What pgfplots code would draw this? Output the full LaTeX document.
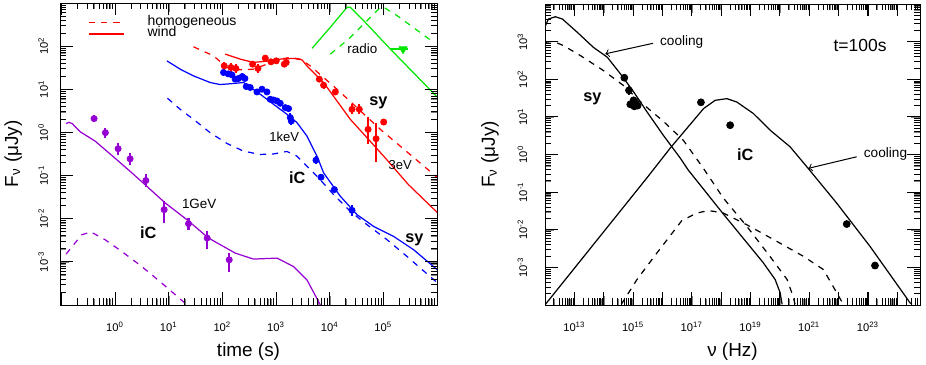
\documentclass[border=0pt]{standalone}
\usepackage{fontspec}
\setmainfont{Liberation Sans}
\usepackage{pgfplots}
\usepackage{pgfplotstable}
\pgfplotsset{compat=1.18}

\definecolor{vio}{RGB}{150,0,210}
\definecolor{grn}{RGB}{0,230,0}
\definecolor{rd}{RGB}{255,0,0}
\definecolor{bl}{RGB}{0,0,255}
\newcommand\fs[1]{\fontsize{#1}{#1}\selectfont}

% all values are log10 of the plotted quantity
% ---- left panel: light curves (log t [s], log F [muJy])
\pgfplotstableread{
x y
-0.914 0.202
-0.858 0.233
-0.797 0.202
-0.653 0.016
-0.373 -0.202
-0.032 -0.565
0.312 -0.937
0.591 -1.249
0.933 -1.635
1.338 -2.023
1.741 -2.449
2.239 -2.798
2.580 -2.937
3.017 -2.914
3.326 -3.109
3.576 -3.419
3.825 -4.0
}\vsolid
\pgfplotstableread{
x y
-0.914 -2.821
-0.621 -2.372
-0.448 -2.309
-0.187 -2.488
0.125 -2.760
0.498 -3.109
0.871 -3.495
1.343 -4.0
}\vdash
\pgfplotstableread{
x y ep em
-0.392 0.319 0.08 0.08
-0.181 -0.007 0.12 0.12
0.056 -0.379 0.14 0.14
0.280 -0.612 0.14 0.14
0.573 -1.116 0.16 0.16
0.914 -1.791 0.19 0.30
1.368 -2.116 0.14 0.14
1.716 -2.449 0.16 0.26
2.127 -2.953 0.16 0.28
}\vpts
\pgfplotstableread{
x y
0.965 1.658
1.213 1.465
1.461 1.309
1.772 1.156
1.959 1.109
2.207 1.133
2.394 1.156
2.487 1.077
2.705 0.884
2.953 0.651
3.203 0.419
3.390 0.226
3.576 -0.086
3.763 -0.551
3.886 -0.937
4.198 -1.481
4.509 -1.907
4.819 -2.179
5.192 -2.412
5.565 -2.721
6.007 -3.186
}\bsolid
\pgfplotstableread{
x y
0.976 0.791
1.213 0.535
1.461 0.302
1.772 -0.007
2.084 -0.256
2.394 -0.435
2.705 -0.512
2.953 -0.500
3.203 -0.442
3.390 -0.551
3.576 -0.784
3.763 -1.016
4.073 -1.442
4.384 -1.830
4.696 -2.140
5.069 -2.488
5.442 -2.877
6.007 -3.488
}\bdash
\pgfplotstableread{
x y ep em
2.021 1.388 0.03 0.03
2.108 1.356 0.03 0.03
2.177 1.333 0.03 0.03
2.239 1.233 0.03 0.03
2.300 1.249 0.03 0.03
2.369 1.295 0.03 0.03
2.420 1.249 0.03 0.03
2.444 1.063 0.03 0.03
2.519 1.040 0.03 0.03
2.644 0.937 0.03 0.03
2.737 1.000 0.03 0.03
2.830 0.937 0.03 0.03
2.892 0.767 0.03 0.03
2.953 0.751 0.03 0.03
3.017 0.728 0.03 0.03
3.078 0.674 0.03 0.03
3.172 0.574 0.03 0.03
3.233 0.551 0.03 0.03
3.265 0.342 0.10 0.10
3.284 0.263 0.10 0.10
3.744 -0.644 0.10 0.10
3.838 -1.040 0.06 0.06
4.086 -1.326 0.06 0.06
4.416 -1.807 0.12 0.12
}\bpts
\pgfplotstableread{
x y
2.052 1.814
2.332 1.698
2.580 1.621
2.830 1.651
3.078 1.698
3.326 1.714
3.483 1.681
3.576 1.542
3.886 1.156
4.384 0.302
5.006 -0.551
5.466 -1.209
6.007 -1.860
}\rsolid
\pgfplotstableread{
x y
1.461 1.984
1.834 1.774
2.084 1.505
2.332 1.449
2.580 1.465
2.830 1.581
3.078 1.698
3.265 1.737
3.451 1.698
3.638 1.542
4.136 1.000
4.944 0.070
6.007 -1.047
}\rdash
\pgfplotstableread{
x y ep em
2.034 1.542 0.10 0.10
2.159 1.505 0.10 0.10
2.252 1.481 0.10 0.10
2.562 1.581 0.05 0.05
2.662 1.481 0.10 0.10
2.799 1.721 0.03 0.03
2.905 1.635 0.03 0.03
3.004 1.658 0.03 0.03
3.153 1.581 0.05 0.05
3.190 1.621 0.03 0.03
3.806 1.233 0.05 0.05
3.886 1.093 0.08 0.08
4.104 0.937 0.06 0.06
4.416 0.535 0.12 0.12
4.552 0.535 0.12 0.12
4.715 0.070 0.28 0.35
4.864 -0.147 0.37 0.53
5.006 0.240 0.06 0.06
}\rpts
\pgfplotstableread{
x y
3.670 1.947
4.011 2.435
4.323 2.900
4.384 2.900
4.603 2.628
5.131 1.930
6.007 0.814
}\gsolid
\pgfplotstableread{
x y
4.011 1.814
4.353 2.163
4.696 2.588
4.944 2.900
5.006 2.900
5.256 2.705
5.938 2.086
}\gdash
\pgfplotstableread{
x y
5.131 1.930
5.466 1.930
}\glim
% ---- right panel: spectrum at t=100 s (log nu [Hz], log F [muJy])
\pgfplotstableread{
x y
12.014 3.423
12.116 3.601
12.354 3.661
12.592 3.601
13.102 3.246
13.646 2.849
14.122 2.585
14.565 2.146
15.007 1.677
15.483 1.122
16.027 0.513
16.605 -0.095
16.878 -0.413
18.068 -1.577
19.429 -2.873
19.837 -3.323
20.007 -3.672
20.075 -3.984
}\sysolid
\pgfplotstableread{
x y
12.014 2.981
12.286 3.008
12.626 2.894
13.204 2.630
13.986 2.233
14.667 1.836
15.347 1.333
16.027 0.884
16.707 0.381
17.388 -0.360
18.068 -1.153
18.884 -1.921
19.667 -2.714
20.245 -3.323
20.449 -3.773
20.517 -3.984
}\sydash
\pgfplotstableread{
x y
12.014 -3.984
15.473 -0.620
16.265 0.170
16.946 0.800
17.400 1.220
17.796 1.440
18.194 1.484
18.534 1.394
19.099 1.087
19.667 0.646
20.347 0.204
20.915 -0.325
21.935 -1.294
23.068 -2.442
24.429 -3.939
24.497 -3.984
}\icsolid
\pgfplotstableread{
x y
14.599 -3.984
15.133 -3.323
15.813 -2.616
16.663 -1.754
17.173 -1.558
17.568 -1.489
18.078 -1.558
18.874 -1.868
19.895 -2.310
20.799 -2.706
21.480 -3.058
21.935 -3.675
22.160 -3.984
}\icdash
\pgfplotstableread{
x y e
14.701 2.040 0.08
14.861 1.704 0.12
14.905 1.333 0.06
15.017 1.439 0.06
15.099 1.352 0.06
15.153 1.299 0.06
15.041 1.280 0.06
17.310 1.386 0.04
18.306 0.778 0.04
22.276 -1.849 0.08
23.238 -2.952 0.08
}\sedpts

% tick positions (drawn as inward strokes on all four sides)
\def\LXmaj{0.1,1,10,100,1000,1e4,1e5}
\def\LXmin{2e-1,3e-1,4e-1,5e-1,6e-1,7e-1,8e-1,9e-1,2,3,4,5,6,7,8,9,20,30,40,50,60,70,80,90,200,300,400,500,600,700,800,900,2e3,3e3,4e3,5e3,6e3,7e3,8e3,9e3,2e4,3e4,4e4,5e4,6e4,7e4,8e4,9e4,2e5,3e5,4e5,5e5,6e5,7e5,8e5,9e5}
\def\LYmaj{1e-3,1e-2,0.1,1,10,100}
\def\LYmin{2e-4,3e-4,4e-4,5e-4,6e-4,7e-4,8e-4,9e-4,2e-3,3e-3,4e-3,5e-3,6e-3,7e-3,8e-3,9e-3,2e-2,3e-2,4e-2,5e-2,6e-2,7e-2,8e-2,9e-2,2e-1,3e-1,4e-1,5e-1,6e-1,7e-1,8e-1,9e-1,2,3,4,5,6,7,8,9,20,30,40,50,60,70,80,90,200,300,400,500,600,700,800,900}
\def\RXmaj{1e13,1e14,1e15,1e16,1e17,1e18,1e19,1e20,1e21,1e22,1e23,1e24}
\def\RXmin{2e12,3e12,4e12,5e12,6e12,7e12,8e12,9e12,2e13,3e13,4e13,5e13,6e13,7e13,8e13,9e13,2e14,3e14,4e14,5e14,6e14,7e14,8e14,9e14,2e15,3e15,4e15,5e15,6e15,7e15,8e15,9e15,2e16,3e16,4e16,5e16,6e16,7e16,8e16,9e16,2e17,3e17,4e17,5e17,6e17,7e17,8e17,9e17,2e18,3e18,4e18,5e18,6e18,7e18,8e18,9e18,2e19,3e19,4e19,5e19,6e19,7e19,8e19,9e19,2e20,3e20,4e20,5e20,6e20,7e20,8e20,9e20,2e21,3e21,4e21,5e21,6e21,7e21,8e21,9e21,2e22,3e22,4e22,5e22,6e22,7e22,8e22,9e22,2e23,3e23,4e23,5e23,6e23,7e23,8e23,9e23,2e24,3e24,4e24,5e24}
\def\RYmaj{1e-3,1e-2,0.1,1,10,100,1000}
\def\RYmin{2e-4,3e-4,4e-4,5e-4,6e-4,7e-4,8e-4,9e-4,2e-3,3e-3,4e-3,5e-3,6e-3,7e-3,8e-3,9e-3,2e-2,3e-2,4e-2,5e-2,6e-2,7e-2,8e-2,9e-2,2e-1,3e-1,4e-1,5e-1,6e-1,7e-1,8e-1,9e-1,2,3,4,5,6,7,8,9,20,30,40,50,60,70,80,90,200,300,400,500,600,700,800,900,2e3,3e3,4e3,5e3,6e3,7e3,8e3,9e3}

\begin{document}
\begin{tikzpicture}
% ================= left panel =================
\begin{axis}[at={(0cm,0cm)}, anchor=south west,
  scale only axis, xmode=log, ymode=log,
  width=6.515cm, height=5.219cm,
  tick label style={font=\fs{5.5}},
  label style={font=\fs{9.3}},
  xmin=0.094, xmax=1e6, ymin=1e-4, ymax=1e3,
  xtick={0.1,1,10,100,1000,10000,100000,1000000},
  xticklabels={{},{10\textsuperscript{0}},{10\textsuperscript{1}},{10\textsuperscript{2}},{10\textsuperscript{3}},{10\textsuperscript{4}},{10\textsuperscript{5}},{}},
  ytick={1e-4,1e-3,0.01,0.1,1,10,100,1000},
  yticklabels={{},{10\textsuperscript{-3}},{10\textsuperscript{-2}},{10\textsuperscript{-1}},{10\textsuperscript{0}},{10\textsuperscript{1}},{10\textsuperscript{2}},{}},
  xticklabel style={anchor=center, yshift=-0.38cm},
  yticklabel style={xshift=-0.29cm, rotate=90, anchor=center},
  xlabel={time (s)}, ylabel={F\textsubscript{ν} (μJy)},
  xlabel style={at={(axis description cs:0.5,-0.155)}, anchor=center},
  ylabel style={at={(axis description cs:-0.124,0.5)}, anchor=center},
  legend style={at={(rel axis cs:0.0743,0.955)}, anchor=north west, draw=none, fill=none,
    font=\fs{6.9}, inner sep=0pt, row sep=0pt,
    nodes={inner sep=0pt, text height=4.3pt, text depth=1.26pt},
    /tikz/every odd column/.append style={column sep=0.4cm}},
  legend cell align=left,
]
\addplot[rd, line width=0.6pt, dashed] table[x expr=10^\thisrow{x}, y expr=10^\thisrow{y}] {\rdash};
\addlegendentry{homogeneous}
\addplot[rd, line width=0.6pt] table[x expr=10^\thisrow{x}, y expr=10^\thisrow{y}] {\rsolid};
\addlegendentry{wind}
\addplot[vio, line width=0.6pt, forget plot] table[x expr=10^\thisrow{x}, y expr=10^\thisrow{y}] {\vsolid};
\addplot[vio, line width=0.6pt, dashed, forget plot] table[x expr=10^\thisrow{x}, y expr=10^\thisrow{y}] {\vdash};
\addplot[bl, line width=0.6pt, forget plot] table[x expr=10^\thisrow{x}, y expr=10^\thisrow{y}] {\bsolid};
\addplot[bl, line width=0.6pt, dashed, forget plot] table[x expr=10^\thisrow{x}, y expr=10^\thisrow{y}] {\bdash};
\addplot[grn, line width=0.6pt, forget plot] table[x expr=10^\thisrow{x}, y expr=10^\thisrow{y}] {\gsolid};
\addplot[grn, line width=0.6pt, dashed, forget plot] table[x expr=10^\thisrow{x}, y expr=10^\thisrow{y}] {\gdash};
\addplot[grn, line width=1pt, forget plot] table[x expr=10^\thisrow{x}, y expr=10^\thisrow{y}] {\glim};
\addplot[grn, only marks, mark=triangle*, mark size=2.2pt, mark options={rotate=180}, forget plot] coordinates {(233000,85)};
\addplot[vio, only marks, mark=*, mark size=1.5pt, forget plot,
  error bars/.cd, y dir=both, y explicit, error mark=none, error bar style={line width=1pt}]
  table[x expr=10^\thisrow{x}, y expr=10^\thisrow{y},
  y error plus expr=10^(\thisrow{y}+\thisrow{ep})-10^\thisrow{y},
  y error minus expr=10^\thisrow{y}-10^(\thisrow{y}-\thisrow{em})] {\vpts};
\addplot[bl, only marks, mark=*, mark size=1.5pt, forget plot,
  error bars/.cd, y dir=both, y explicit, error mark=none, error bar style={line width=1pt}]
  table[x expr=10^\thisrow{x}, y expr=10^\thisrow{y},
  y error plus expr=10^(\thisrow{y}+\thisrow{ep})-10^\thisrow{y},
  y error minus expr=10^\thisrow{y}-10^(\thisrow{y}-\thisrow{em})] {\bpts};
\addplot[rd, only marks, mark=*, mark size=1.5pt, forget plot,
  error bars/.cd, y dir=both, y explicit, error mark=none, error bar style={line width=1pt}]
  table[x expr=10^\thisrow{x}, y expr=10^\thisrow{y},
  y error plus expr=10^(\thisrow{y}+\thisrow{ep})-10^\thisrow{y},
  y error minus expr=10^\thisrow{y}-10^(\thisrow{y}-\thisrow{em})] {\rpts};
\node[font=\fs{6.6}] at (axis cs:4.06e4,85) {radio};
\node[font=\fs{8}\bfseries] at (axis cs:8.07e4,4.72) {sy};
\node[font=\fs{6.4}] at (axis cs:1.42e3,0.807) {1keV};
\node[font=\fs{6.4}] at (axis cs:2.07e5,0.171) {3eV};
\node[font=\fs{8}\bfseries] at (axis cs:2.49e3,0.0897) {iC};
\node[font=\fs{6.6}] at (axis cs:36.9,0.0223) {1GeV};
\node[font=\fs{8}\bfseries] at (axis cs:4.13,4.72e-3) {iC};
\node[font=\fs{8}\bfseries] at (axis cs:3.79e5,3.25e-3) {sy};
% tick strokes
\expandafter\pgfplotsinvokeforeach\expandafter{\LXmaj}{
  \draw[black, line width=0.5pt] (axis cs:#1,1e-4) -- ++(0pt,0.216cm);
  \draw[black, line width=0.5pt] (axis cs:#1,1e3) -- ++(0pt,-0.216cm);}
\expandafter\pgfplotsinvokeforeach\expandafter{\LXmin}{
  \draw[black, line width=0.4pt] (axis cs:#1,1e-4) -- ++(0pt,0.112cm);
  \draw[black, line width=0.4pt] (axis cs:#1,1e3) -- ++(0pt,-0.112cm);}
\expandafter\pgfplotsinvokeforeach\expandafter{\LYmaj}{
  \draw[black, line width=0.5pt] (axis cs:0.094,#1) -- ++(0.216cm,0pt);
  \draw[black, line width=0.5pt] (axis cs:1e6,#1) -- ++(-0.216cm,0pt);}
\expandafter\pgfplotsinvokeforeach\expandafter{\LYmin}{
  \draw[black, line width=0.4pt] (axis cs:0.094,#1) -- ++(0.112cm,0pt);
  \draw[black, line width=0.4pt] (axis cs:1e6,#1) -- ++(-0.112cm,0pt);}
\end{axis}
% ================= right panel =================
\begin{axis}[at={(8.381cm,0cm)}, anchor=south west,
  scale only axis, xmode=log, ymode=log,
  width=6.480cm, height=5.201cm,
  tick label style={font=\fs{5.5}},
  label style={font=\fs{9.3}},
  xmin=1e12, xmax=5.9e24, ymin=1e-4, ymax=1e4,
  xtick={1e12,1e13,1e14,1e15,1e16,1e17,1e18,1e19,1e20,1e21,1e22,1e23,1e24},
  xticklabels={{},{10\textsuperscript{13}},{},{10\textsuperscript{15}},{},{10\textsuperscript{17}},{},{10\textsuperscript{19}},{},{10\textsuperscript{21}},{},{10\textsuperscript{23}},{}},
  ytick={1e-4,1e-3,0.01,0.1,1,10,100,1000,1e4},
  yticklabels={{},{10\textsuperscript{-3}},{10\textsuperscript{-2}},{10\textsuperscript{-1}},{10\textsuperscript{0}},{10\textsuperscript{1}},{10\textsuperscript{2}},{10\textsuperscript{3}},{}},
  xticklabel style={anchor=center, yshift=-0.38cm},
  yticklabel style={xshift=-0.39cm, rotate=90, anchor=center},
  xlabel={ν (Hz)}, ylabel={F\textsubscript{ν} (μJy)},
  xlabel style={at={(axis description cs:0.5,-0.156)}, anchor=center},
  ylabel style={at={(axis description cs:-0.147,0.5)}, anchor=center},
]
\addplot[black, line width=0.6pt] table[x expr=10^\thisrow{x}, y expr=10^\thisrow{y}] {\sysolid};
\addplot[black, line width=0.6pt, dashed] table[x expr=10^\thisrow{x}, y expr=10^\thisrow{y}] {\sydash};
\addplot[black, line width=0.6pt] table[x expr=10^\thisrow{x}, y expr=10^\thisrow{y}] {\icsolid};
\addplot[black, line width=0.6pt, dashed] table[x expr=10^\thisrow{x}, y expr=10^\thisrow{y}] {\icdash};
\addplot[black, only marks, mark=*, mark size=1.7pt,
  error bars/.cd, y dir=both, y explicit, error mark=none, error bar style={line width=1pt}]
  table[x expr=10^\thisrow{x}, y expr=10^\thisrow{y},
  y error plus expr=10^(\thisrow{y}+\thisrow{e})-10^\thisrow{y},
  y error minus expr=10^\thisrow{y}-10^(\thisrow{y}-\thisrow{e})] {\sedpts};
\draw[->, line width=0.5pt] (axis cs:4.75e15,902) -- (axis cs:1.13e14,473);
\node[font=\fs{6.7}, anchor=west] at (axis cs:4.75e15,1000) {cooling};
\draw[->, line width=0.5pt] (axis cs:4.13e22,0.869) -- (axis cs:9.31e20,0.428);
\node[font=\fs{6.7}, anchor=west] at (axis cs:4.13e22,1.03) {cooling};
\node[font=\fs{8.6}] at (axis cs:5.35e22,783) {t=100s};
\node[font=\fs{8}\bfseries] at (axis cs:4.09e13,31) {sy};
\node[font=\fs{8}\bfseries] at (axis cs:6.55e18,0.964) {iC};
% tick strokes
\expandafter\pgfplotsinvokeforeach\expandafter{\RXmaj}{
  \draw[black, line width=0.5pt] (axis cs:#1,1e-4) -- ++(0pt,0.216cm);
  \draw[black, line width=0.5pt] (axis cs:#1,1e4) -- ++(0pt,-0.216cm);}
\expandafter\pgfplotsinvokeforeach\expandafter{\RXmin}{
  \draw[black, line width=0.4pt] (axis cs:#1,1e-4) -- ++(0pt,0.112cm);
  \draw[black, line width=0.4pt] (axis cs:#1,1e4) -- ++(0pt,-0.112cm);}
\expandafter\pgfplotsinvokeforeach\expandafter{\RYmaj}{
  \draw[black, line width=0.5pt] (axis cs:1e12,#1) -- ++(0.216cm,0pt);
  \draw[black, line width=0.5pt] (axis cs:5.9e24,#1) -- ++(-0.216cm,0pt);}
\expandafter\pgfplotsinvokeforeach\expandafter{\RYmin}{
  \draw[black, line width=0.4pt] (axis cs:1e12,#1) -- ++(0.112cm,0pt);
  \draw[black, line width=0.4pt] (axis cs:5.9e24,#1) -- ++(-0.112cm,0pt);}
\end{axis}
\pgfresetboundingbox
\path[use as bounding box] (-1.037cm,-1.037cm) rectangle (14.965cm,5.270cm);
\end{tikzpicture}
\end{document}
